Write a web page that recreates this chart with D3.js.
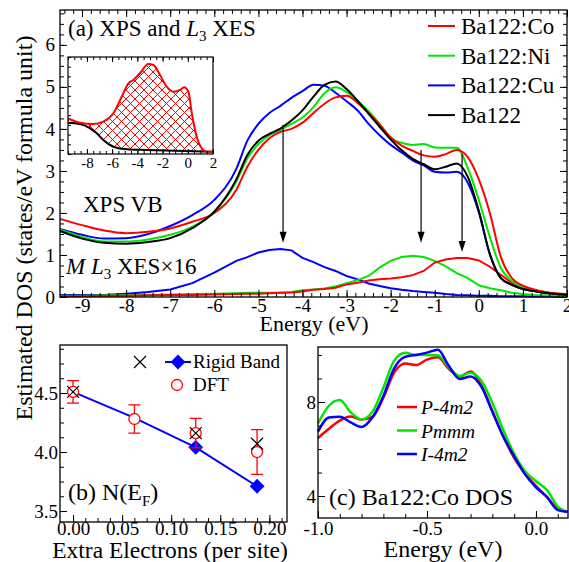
<!DOCTYPE html>
<html>
<head>
<meta charset="utf-8">
<script src="https://cdn.jsdelivr.net/npm/d3@7/dist/d3.min.js"></script>
<style>
  body { margin: 0; background: #fff; }
  svg text, svg .axis { font-family: "Liberation Serif", Tinos, "Times New Roman", Times, "DejaVu Serif", serif !important; fill: #000; }
  .axis path { display: none; }
  .axis line { stroke: #000; }
</style>
</head>
<body>
<svg id="chart" width="569" height="562"></svg>
<script>
// ---- (a) XPS valence band + M L3 XES (x16) ----
const energyA = [-9.5, -9, -8.5, -8, -7.5, -7, -6.5, -6, -5.5, -5.25, -5, -4.75, -4.5, -4.25, -4, -3.75, -3.5, -3.25, -3,
  -2.75, -2.5, -2.25, -2, -1.75, -1.5, -1.25, -1, -0.75, -0.5, -0.25, 0, 0.25, 0.5, 0.75, 1, 1.25, 1.5, 2];
const xpsCo = [1.86, 1.71, 1.58, 1.52, 1.55, 1.63, 1.79, 2.0, 2.55, 3.1, 3.5, 3.78, 3.93, 4.0, 4.15, 4.38, 4.6, 4.75, 4.79,
  4.62, 4.38, 4.1, 3.8, 3.6, 3.48, 3.37, 3.34, 3.40, 3.5, 3.33, 2.8, 2.0, 0.95, 0.45, 0.27, 0.18, 0.12, 0.07];
const xpsNi = [1.60, 1.43, 1.32, 1.32, 1.37, 1.48, 1.67, 2.03, 2.75, 3.3, 3.64, 3.85, 3.98, 4.12, 4.27, 4.52, 4.85, 4.99, 4.88,
  4.67, 4.42, 4.12, 3.78, 3.67, 3.62, 3.64, 3.56, 3.55, 3.55, 3.07, 2.31, 1.43, 0.69, 0.38, 0.24, 0.17, 0.12, 0.05];
const xpsCu = [1.62, 1.48, 1.39, 1.40, 1.50, 1.69, 1.95, 2.31, 3.05, 3.72, 4.12, 4.38, 4.55, 4.74, 4.9, 5.05, 5.03, 4.86, 4.66,
  4.44, 4.12, 3.85, 3.62, 3.44, 3.25, 3.13, 2.98, 2.96, 2.98, 2.72, 2.02, 1.02, 0.45, 0.29, 0.19, 0.14, 0.1, 0.05];
const xpsBa = [1.57, 1.39, 1.29, 1.27, 1.31, 1.40, 1.64, 2.03, 2.8, 3.38, 3.72, 3.88, 4.01, 4.2, 4.44, 4.77, 5.05, 5.13, 4.95,
  4.67, 4.36, 4.05, 3.75, 3.49, 3.29, 3.16, 3.04, 3.10, 3.18, 2.86, 2.05, 1.02, 0.45, 0.29, 0.19, 0.14, 0.1, 0.05];
const xesCo = [0.02, 0.02, 0.03, 0.03, 0.04, 0.05, 0.05, 0.06, 0.07, 0.08, 0.08, 0.09, 0.1, 0.11, 0.13, 0.17, 0.19, 0.22, 0.3,
  0.34, 0.39, 0.42, 0.44, 0.47, 0.52, 0.62, 0.82, 0.89, 0.93, 0.93, 0.87, 0.72, 0.53, 0.33, 0.21, 0.15, 0.1, 0.05];
const xesNi = [0.03, 0.03, 0.04, 0.04, 0.05, 0.06, 0.07, 0.08, 0.09, 0.1, 0.1, 0.1, 0.1, 0.12, 0.16, 0.18, 0.2, 0.25, 0.33,
  0.4, 0.5, 0.7, 0.86, 0.95, 0.98, 0.95, 0.86, 0.73, 0.57, 0.45, 0.28, 0.21, 0.16, 0.1, 0.07, 0.05, 0.04, 0.02];
const xesCu = [0.05, 0.05, 0.05, 0.08, 0.12, 0.18, 0.33, 0.58, 0.86, 0.95, 1.06, 1.12, 1.14, 1.11, 0.93, 0.83, 0.71, 0.62, 0.5,
  0.42, 0.32, 0.26, 0.21, 0.17, 0.14, 0.12, 0.1, 0.07, 0.05, 0.04, 0.03, 0.03, 0.02, 0.02, 0.02, 0.01, 0.01, 0.0];
const legendA = ["Ba122:Co", "Ba122:Ni", "Ba122:Cu", "Ba122"];
const arrowE = [-4.44, -1.31, -0.38];
const arrowFrom = [4.1, 3.5, 3.4];
const arrowTo = [1.29, 1.29, 1.07];

// inset: Co XES vs Ba122 XPS
const insetCoE = [-9.5, -8.55, -7.49, -6.70, -5.90, -5.24, -4.71, -4.32, -3.79, -3.13, -2.73, -2.2, -1.67, -1.14, -0.61, -0.29, 0.05, 0.32, 0.71, 1.11, 1.51, 2.0];
const insetCo = [0.368, 0.323, 0.309, 0.333, 0.42, 0.59, 0.729, 0.763, 0.832, 0.928, 0.918, 0.814, 0.694, 0.642, 0.66, 0.688, 0.642, 0.42, 0.178, 0.059, 0.024, 0.024];
const insetBaE = [-9.5, -8.55, -7.75, -7.22, -6.70, -5.90, -4.84, -3.25, 2.0];
const insetBa = [0.323, 0.309, 0.265, 0.213, 0.144, 0.075, 0.048, 0.041, 0.024];

// ---- (b) N(EF) ----
const extraE = [0, 0.0625, 0.125, 0.1875];
const rigidBand = [4.51, 4.29, 4.04, 3.71];
const rigidShown = [false, false, true, true];
const dftN = [4.51, 4.28, 4.16, 4.0];
const dftErr = [0.095, 0.12, 0.125, 0.19];
const crossE = [0, 0.125, 0.1875];
const crossN = [4.51, 4.16, 4.07];

// ---- (c) Ba122:Co DOS ----
const energyC = [-1, -0.95, -0.9, -0.85, -0.8, -0.75, -0.7, -0.65, -0.6, -0.55, -0.5, -0.45, -0.4, -0.35, -0.3, -0.25,
  -0.2, -0.15, -0.1, -0.05, 0, 0.05, 0.1, 0.145];
const dosP4m2 = [6.46, 6.86, 7.21, 7.38, 7.25, 7.37, 8.18, 9.26, 9.64, 9.57, 9.80, 9.90, 9.41, 9.08, 9.30, 8.71, 7.62, 6.53, 5.62, 4.96, 4.43, 3.96, 3.45, 3.33];
const dosPmmm = [7.09, 7.84, 8.09, 7.56, 7.26, 7.59, 8.61, 9.77, 10.10, 10.0, 10.0, 9.99, 9.48, 9.11, 9.24, 8.89, 7.97, 6.81, 5.79, 5.05, 4.63, 4.26, 3.55, 3.33];
const dosI4m2 = [6.74, 7.34, 7.37, 7.13, 6.94, 7.35, 8.26, 9.44, 9.92, 10.0, 10.10, 10.22, 9.54, 8.98, 9.08, 8.64, 7.58, 6.53, 5.69, 4.92, 4.37, 3.96, 3.40, 3.33];
const legendC = ["P-4m2", "Pmmm", "I-4m2"];

const RED = "#ff0000", GREEN = "#00e600", BLUE = "#0000ff", BLACK = "#000";

const svg = d3.select("#chart");
const rng = (a, b, s) => d3.range(Math.round((b - a) / s) + 1).map(i => +(a + i * s).toFixed(4));

function addAxes(g, x, y, o) {
  const [left, right] = x.range();
  const [bottom, top] = y.range();
  const axis = (gen, tx, ty) => g.append("g").attr("class", "axis")
    .attr("transform", `translate(${tx},${ty})`).call(gen).attr("font-size", o.font).attr("font-family", null);
  axis(d3.axisBottom(x).tickValues(o.xMinor).tickSize(-4).tickFormat(""), 0, bottom);
  axis(d3.axisBottom(x).tickValues(o.xMajor).tickSize(-7).tickPadding(o.xPad).tickFormat(o.xFmt), 0, bottom);
  if (o.yMajor) {
    axis(d3.axisLeft(y).tickValues(o.yMinor).tickSize(-4).tickFormat(""), left, 0);
    axis(d3.axisLeft(y).tickValues(o.yMajor).tickSize(-7).tickPadding(o.yPad).tickFormat(o.yFmt), left, 0);
  }
  if (o.mirror) {
    axis(d3.axisTop(x).tickValues(o.xMinor).tickSize(-4).tickFormat(""), 0, top);
    axis(d3.axisTop(x).tickValues(o.xMajor).tickSize(-7).tickFormat(""), 0, top);
    if (o.yMajor) {
      axis(d3.axisRight(y).tickValues(o.yMinor).tickSize(-4).tickFormat(""), right, 0);
      axis(d3.axisRight(y).tickValues(o.yMajor).tickSize(-7).tickFormat(""), right, 0);
    }
  }
  g.append("rect").attr("x", left).attr("y", top).attr("width", right - left).attr("height", bottom - top)
    .attr("fill", "none").attr("stroke", "#000").attr("stroke-width", 1.3);
}

// ================= panel (a) =================
const ax = d3.scaleLinear().domain([-9.5, 2]).range([60, 567]);
const ay = d3.scaleLinear().domain([0, 6.83]).range([297, 10]);
const gA = svg.append("g");
const lineA = d3.line().x((d, i) => ax(energyA[i])).y(d => ay(d)).curve(d3.curveMonotoneX);
const lineX = d3.line().x((d, i) => ax(energyA[i])).y(d => ay(d));

[[xesCu, BLUE], [xesNi, GREEN], [xesCo, RED]].forEach(([s, c]) => {
  gA.append("path").attr("d", lineX(s)).attr("fill", "none").attr("stroke", c).attr("stroke-width", 2);
});
[[xpsCu, BLUE], [xpsNi, GREEN], [xpsCo, RED], [xpsBa, BLACK]].forEach(([s, c]) => {
  gA.append("path").attr("d", lineA(s)).attr("fill", "none").attr("stroke", c).attr("stroke-width", 2);
});

arrowE.forEach((e, i) => {
  const x = ax(e), tip = ay(arrowTo[i]);
  gA.append("line").attr("x1", x).attr("x2", x).attr("y1", ay(arrowFrom[i])).attr("y2", tip - 8)
    .attr("stroke", "#000").attr("stroke-width", 1.2);
  gA.append("path").attr("d", `M${x - 3.5},${tip - 11}L${x + 3.5},${tip - 11}L${x},${tip}Z`).attr("fill", "#000");
});

addAxes(gA, ax, ay, {
  font: 19, mirror: true,
  xMajor: rng(-9, 2, 1), xMinor: rng(-9.4, 2, 0.2), xPad: 1, xFmt: d => String(d),
  yMajor: rng(0, 6, 1), yMinor: rng(0, 6.75, 0.25), yPad: 5, yFmt: d => String(d)
});

const titleA = gA.append("text").attr("x", 68).attr("y", 36).attr("font-size", 23);
titleA.append("tspan").text("(a) XPS and ");
titleA.append("tspan").attr("font-style", "italic").text("L");
titleA.append("tspan").attr("font-size", 15).attr("dy", 5).text("3");
titleA.append("tspan").attr("dy", -5).text(" XES");

gA.append("text").attr("x", 83).attr("y", 212).attr("font-size", 23).text("XPS VB");
const xesLab = gA.append("text").attr("x", 66).attr("y", 274).attr("font-size", 23);
xesLab.append("tspan").attr("font-style", "italic").text("M L");
xesLab.append("tspan").attr("font-size", 15).attr("dy", 5).text("3");
xesLab.append("tspan").attr("dy", -5).text(" XES\u00d716");

[RED, GREEN, BLUE, BLACK].forEach((c, i) => {
  const y = 26 + i * 29.7;
  gA.append("line").attr("x1", 428).attr("x2", 455).attr("y1", y).attr("y2", y).attr("stroke", c).attr("stroke-width", 2);
  gA.append("text").attr("x", 461).attr("y", y + 8).attr("font-size", 23).text(legendA[i]);
});

gA.append("text").attr("x", 314).attr("y", 331).attr("text-anchor", "middle").attr("font-size", 22).text("Energy (eV)");

// inset
const ix = d3.scaleLinear().domain([-9.5, 2]).range([68, 213]);
const iy = d3.scaleLinear().domain([0, 1]).range([154, 57]);
const gI = svg.append("g");
gI.append("rect").attr("x", 68).attr("y", 57).attr("width", 145).attr("height", 97).attr("fill", "#fff");
const pat = svg.append("defs").append("pattern").attr("id", "hatch").attr("patternUnits", "userSpaceOnUse")
  .attr("width", 9).attr("height", 9);
pat.append("path").attr("d", "M-1,-1L10,10M10,-1L-1,10").attr("stroke", RED).attr("stroke-width", 1);
const lineI = d3.line().x(d => ix(d[0])).y(d => iy(d[1])).curve(d3.curveMonotoneX);
const coPts = insetCoE.map((e, i) => [e, insetCo[i]]);
const baPts = insetBaE.map((e, i) => [e, insetBa[i]]);
const lineILin = d3.line().x(d => ix(d[0])).y(d => iy(d[1]));
gI.append("path").attr("d", lineI(coPts) + lineILin(baPts.slice().reverse()).replace(/^M/, "L") + "Z")
  .attr("fill", "url(#hatch)");
gI.append("path").attr("d", lineI(baPts)).attr("fill", "none").attr("stroke", BLACK).attr("stroke-width", 2);
gI.append("path").attr("d", lineI(coPts)).attr("fill", "none").attr("stroke", RED).attr("stroke-width", 2);
{
  const axis = (gen, tx, ty) => gI.append("g").attr("class", "axis").attr("transform", `translate(${tx},${ty})`)
    .call(gen).attr("font-size", 15).attr("font-family", null);
  axis(d3.axisBottom(ix).tickValues(rng(-9.5, 2, 0.5)).tickSize(-3).tickFormat(""), 0, 154);
  axis(d3.axisBottom(ix).tickValues(rng(-8, 2, 2)).tickSize(-5).tickPadding(3).tickFormat(d => String(d)), 0, 154);
  axis(d3.axisTop(ix).tickValues(rng(-9.5, 2, 0.5)).tickSize(-3).tickFormat(""), 0, 57);
  axis(d3.axisTop(ix).tickValues(rng(-8, 2, 2)).tickSize(-5).tickFormat(""), 0, 57);
  axis(d3.axisLeft(iy).tickValues(rng(0, 1, 0.1)).tickSize(-3).tickFormat(""), 68, 0);
  gI.append("rect").attr("x", 68).attr("y", 57).attr("width", 145).attr("height", 97)
    .attr("fill", "none").attr("stroke", "#000").attr("stroke-width", 1.2);
}

// y label shared
svg.append("text").attr("transform", "translate(32,228) rotate(-90)").attr("text-anchor", "middle")
  .attr("font-size", 24).text("Estimated DOS (states/eV formula unit)");

// ================= panel (b) =================
const bx = d3.scaleLinear().domain([-0.0133, 0.218]).range([60, 287]);
const by = d3.scaleLinear().domain([3.407, 4.907]).range([522, 345]);
const gB = svg.append("g");
gB.append("path").attr("d", d3.line().x((d, i) => bx(extraE[i])).y(d => by(d))(rigidBand))
  .attr("fill", "none").attr("stroke", BLUE).attr("stroke-width", 2);
const diamond = d3.symbol(d3.symbolSquare, 110);
gB.selectAll(".rb").data(rigidBand.filter((d, i) => rigidShown[i])).join("path")
  .attr("d", diamond).attr("fill", BLUE)
  .attr("transform", (d) => `translate(${bx(extraE[rigidBand.indexOf(d)])},${by(d)}) rotate(45)`);
extraE.forEach((e, i) => {
  const x = bx(e), y1 = by(dftN[i] + dftErr[i]), y2 = by(dftN[i] - dftErr[i]);
  gB.append("path").attr("d", `M${x},${y1}V${y2}M${x - 6},${y1}H${x + 6}M${x - 6},${y2}H${x + 6}`)
    .attr("stroke", RED).attr("stroke-width", 1.3).attr("fill", "none");
  gB.append("circle").attr("cx", x).attr("cy", by(dftN[i])).attr("r", 5.5)
    .attr("fill", "#fff").attr("stroke", RED).attr("stroke-width", 1.3);
});
const cross = "M-6,-6L6,6M6,-6L-6,6";
crossE.forEach((e, i) => {
  gB.append("path").attr("d", cross).attr("transform", `translate(${bx(e)},${by(crossN[i])})`)
    .attr("stroke", "#000").attr("stroke-width", 1.2);
});
addAxes(gB, bx, by, {
  font: 19, mirror: false,
  xMajor: rng(0, 0.2, 0.05), xMinor: rng(0, 0.2125, 0.0125), xPad: -1, xFmt: d => d.toFixed(2),
  yMajor: [3.5, 4, 4.5], yMinor: rng(3.5, 4.875, 0.125), yPad: 2, yFmt: d => d.toFixed(1)
});
// legend (b)
gB.append("path").attr("d", cross).attr("transform", "translate(140,362)").attr("stroke", "#000").attr("stroke-width", 1.2);
gB.append("line").attr("x1", 165).attr("x2", 191).attr("y1", 362).attr("y2", 362).attr("stroke", BLUE).attr("stroke-width", 2);
gB.append("path").attr("d", diamond).attr("transform", "translate(178,362) rotate(45)").attr("fill", BLUE);
gB.append("text").attr("x", 193).attr("y", 368).attr("font-size", 19).text("Rigid Band");
gB.append("circle").attr("cx", 177).attr("cy", 385).attr("r", 5.5).attr("fill", "#fff").attr("stroke", RED).attr("stroke-width", 1.3);
gB.append("text").attr("x", 193).attr("y", 391).attr("font-size", 19).text("DFT");
const labB = gB.append("text").attr("x", 68).attr("y", 500).attr("font-size", 24);
labB.append("tspan").text("(b) N(E");
labB.append("tspan").attr("font-size", 15).attr("dy", 6).text("F");
labB.append("tspan").attr("dy", -6).text(")");
gB.append("text").attr("x", 170).attr("y", 558).attr("text-anchor", "middle").attr("font-size", 23.5).text("Extra Electrons (per site)");

// ================= panel (c) =================
const cx = d3.scaleLinear().domain([-1, 0.147]).range([318, 568]);
const cy = d3.scaleLinear().domain([3.064, 10.34]).range([518, 347]);
const gC = svg.append("g");
const lineC = d3.line().x((d, i) => cx(energyC[i])).y(d => cy(d)).curve(d3.curveMonotoneX);
[[dosP4m2, RED], [dosPmmm, GREEN], [dosI4m2, BLUE]].forEach(([s, c]) => {
  gC.append("path").attr("d", lineC(s)).attr("fill", "none").attr("stroke", c).attr("stroke-width", 2.5);
});
addAxes(gC, cx, cy, {
  font: 19, mirror: false,
  xMajor: [-1, -0.5, 0], xMinor: rng(-1, 0.1, 0.1), xPad: 3, xFmt: d => d.toFixed(1),
  yMajor: [4, 8], yMinor: rng(4, 10, 1), yPad: 2, yFmt: d => String(d)
});
[RED, GREEN, BLUE].forEach((c, i) => {
  const y = 407 + i * 23.5;
  gC.append("line").attr("x1", 397).attr("x2", 417).attr("y1", y).attr("y2", y).attr("stroke", c).attr("stroke-width", 2.5);
  gC.append("text").attr("x", 421).attr("y", y + 7).attr("font-size", 19.5).attr("font-style", "italic").text(legendC[i]);
});
gC.append("text").attr("x", 329).attr("y", 505).attr("font-size", 24).text("(c) Ba122:Co DOS");
gC.append("text").attr("x", 443).attr("y", 557).attr("text-anchor", "middle").attr("font-size", 24).text("Energy (eV)");
</script>
</body>
</html>
